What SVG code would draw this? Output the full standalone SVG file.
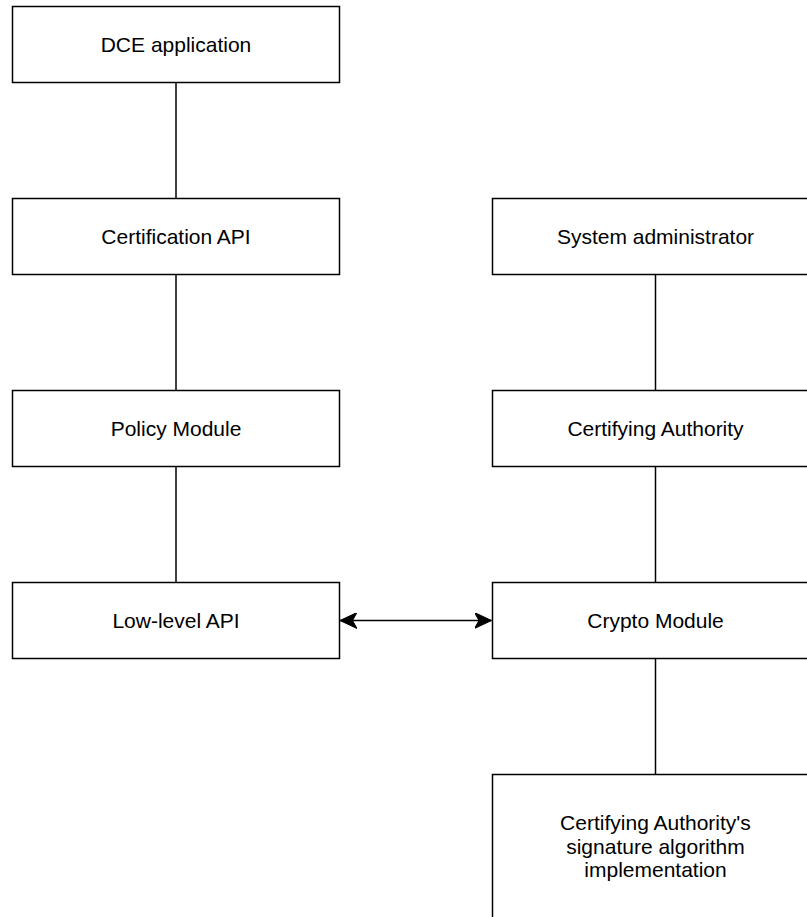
<svg xmlns="http://www.w3.org/2000/svg" width="807" height="917" viewBox="0 0 807 917">
<style>
.box{fill:#fff;stroke:#000;stroke-width:1.5}
.lbl{font-family:"Liberation Sans",Arial,Helvetica,sans-serif;font-size:21px;fill:#000;text-anchor:middle}
.conn{stroke:#000;stroke-width:1.5;fill:none}
</style>
<defs>
<marker id="ah" viewBox="0 0 18 16" refX="17" refY="8" markerWidth="18" markerHeight="16" markerUnits="userSpaceOnUse" orient="auto-start-reverse">
<path d="M17,8 L0,0 L4.5,8 L0,16 Z" fill="#000" stroke="#000" stroke-width="1"/>
</marker>
</defs>
<rect width="807" height="917" fill="#fff"/>
<g id="connectors">
<line class="conn" x1="176" y1="82.5" x2="176" y2="198.5"/>
<line class="conn" x1="176" y1="274.5" x2="176" y2="390.5"/>
<line class="conn" x1="176" y1="466.5" x2="176" y2="582.5"/>
<line class="conn" x1="655.5" y1="274.5" x2="655.5" y2="390.5"/>
<line class="conn" x1="655.5" y1="466.5" x2="655.5" y2="582.5"/>
<line class="conn" x1="655.5" y1="658.5" x2="655.5" y2="774.5"/>
<line class="conn" x1="340" y1="620.5" x2="491.5" y2="620.5" marker-start="url(#ah)" marker-end="url(#ah)"/>
</g>
<g id="dce-application">
<rect class="box" x="12.5" y="6.5" width="327" height="76"/>
<text class="lbl" x="176" y="51.5">DCE application</text>
</g>
<g id="certification-api">
<rect class="box" x="12.5" y="198.5" width="327" height="76"/>
<text class="lbl" x="176" y="243.5">Certification API</text>
</g>
<g id="policy-module">
<rect class="box" x="12.5" y="390.5" width="327" height="76"/>
<text class="lbl" x="176" y="435.5">Policy Module</text>
</g>
<g id="low-level-api">
<rect class="box" x="12.5" y="582.5" width="327" height="76"/>
<text class="lbl" x="176" y="627.5">Low-level API</text>
</g>
<g id="system-administrator">
<rect class="box" x="492.5" y="198.5" width="327" height="76"/>
<text class="lbl" x="655.5" y="243.5">System administrator</text>
</g>
<g id="certifying-authority">
<rect class="box" x="492.5" y="390.5" width="327" height="76"/>
<text class="lbl" x="655.5" y="435.5">Certifying Authority</text>
</g>
<g id="crypto-module">
<rect class="box" x="492.5" y="582.5" width="327" height="76"/>
<text class="lbl" x="655.5" y="627.5">Crypto Module</text>
</g>
<g id="signature-algorithm">
<rect class="box" x="492.5" y="774.5" width="327" height="145"/>
<text class="lbl" x="655.5" y="830">Certifying Authority's</text>
<text class="lbl" x="655.5" y="853.5">signature algorithm</text>
<text class="lbl" x="655.5" y="877">implementation</text>
</g>
</svg>
